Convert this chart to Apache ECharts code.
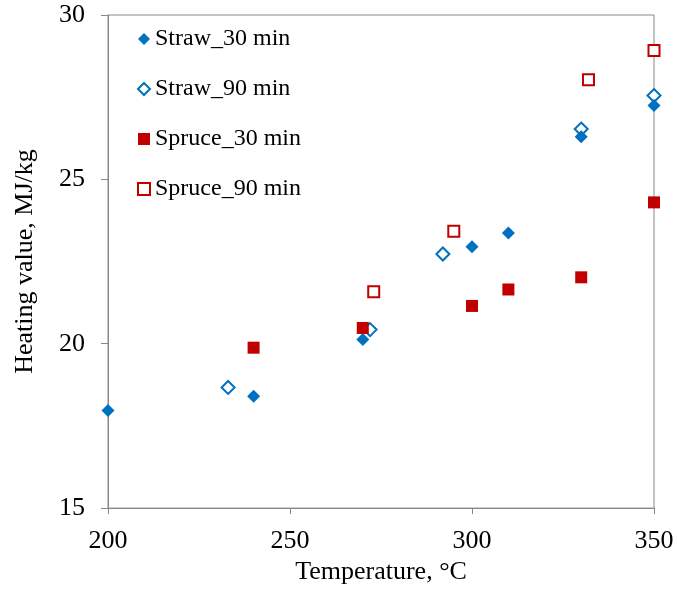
<!DOCTYPE html>
<html>
<head>
<meta charset="utf-8">
<script src="https://cdn.jsdelivr.net/npm/echarts@6/dist/echarts.min.js"></script>
<style>
  html, body { margin: 0; padding: 0; background: #fff; }
  #main { width: 678px; height: 590px; }
</style>
</head>
<body>
<div id="main"></div>
<script>
// data: [temperature, heating value]
var straw30 = [[200, 17.97], [240, 18.4], [270, 20.13], [300, 22.95], [310, 23.37], [330, 26.3], [350, 27.25]];
var straw90 = [[233, 18.67], [272, 20.43], [292, 22.73], [330, 26.53], [350, 27.55]];
var spruce30 = [[240, 19.88], [270, 20.48], [300, 21.15], [310, 21.65], [330, 22.02], [350, 24.3]];
var spruce90 = [[273, 21.58], [295, 23.42], [332, 28.03], [350, 28.92]];
var seriesNames = ["Straw_30 min", "Straw_90 min", "Spruce_30 min", "Spruce_90 min"];

var blue = "#0070C0";
var red = "#C00000";
var font = "'Liberation Serif', 'Times New Roman', serif";

var myChart = echarts.init(document.getElementById("main"));

var option = {
    animation: false,
    grid: { left: 108, top: 15, right: 24, bottom: 80, show: true, borderColor: "#888", borderWidth: 1 },
    legend: {
        orient: "vertical",
        left: 132,
        top: 22,
        itemGap: 26,
        itemWidth: 12,
        itemHeight: 12,
        data: seriesNames,
        textStyle: { fontFamily: font, fontSize: 24, color: "#000", lineHeight: 24 }
    },
    xAxis: {
        type: "value",
        min: 200, max: 350, interval: 50,
        name: "Temperature, °C",
        nameLocation: "middle",
        nameGap: 50,
        nameTextStyle: { fontFamily: font, fontSize: 26, color: "#000" },
        axisLine: { lineStyle: { color: "#888" } },
        axisTick: { show: true, length: 6, inside: false, lineStyle: { color: "#888" } },
        axisLabel: { fontFamily: font, fontSize: 26, color: "#000", margin: 20 },
        splitLine: { show: false }
    },
    yAxis: {
        type: "value",
        min: 15, max: 30, interval: 5,
        name: "Heating value, MJ/kg",
        nameLocation: "middle",
        nameGap: 70,
        nameTextStyle: { fontFamily: font, fontSize: 26, color: "#000" },
        axisLine: { lineStyle: { color: "#888" } },
        axisTick: { show: true, length: 7, lineStyle: { color: "#888" } },
        axisLabel: { fontFamily: font, fontSize: 26, color: "#000", margin: 23 },
        splitLine: { show: false }
    },
    series: [
        {
            name: seriesNames[0], type: "scatter", data: straw30, z: 3,
            symbol: "diamond", symbolSize: 13,
            itemStyle: { color: blue, opacity: 1 }
        },
        {
            name: seriesNames[1], type: "scatter", data: straw90, z: 2,
            symbol: "diamond", symbolSize: 13,
            itemStyle: { color: "#fff", borderColor: blue, borderWidth: 2, opacity: 1 }
        },
        {
            name: seriesNames[2], type: "scatter", data: spruce30, z: 4,
            symbol: "rect", symbolSize: 12,
            itemStyle: { color: red, opacity: 1 }
        },
        {
            name: seriesNames[3], type: "scatter", data: spruce90, z: 4,
            symbol: "rect", symbolSize: 11,
            itemStyle: { color: "#fff", borderColor: red, borderWidth: 2, opacity: 1 }
        }
    ]
};
myChart.setOption(option);
</script>
</body>
</html>
